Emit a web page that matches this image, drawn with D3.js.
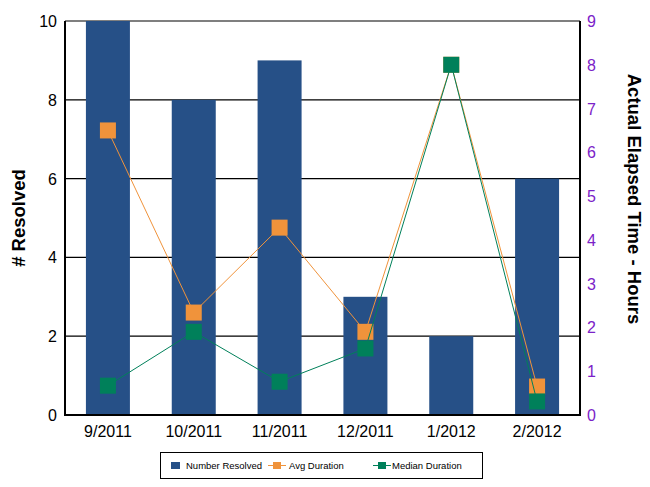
<!DOCTYPE html>
<html>
<head>
<meta charset="UTF-8">
<title>Resolved</title>
<script src="https://d3js.org/d3.v7.min.js"></script>
<style>
body { margin: 0; background: #fff; }
svg { font-family: 'Liberation Sans', Arial, sans-serif; }
</style>
</head>
<body>
<script>
// data
var months = ["9/2011", "10/2011", "11/2011", "12/2011", "1/2012", "2/2012"];
var numberResolved = [10, 8, 9, 3, 2, 6];
var avgDuration = [6.5, 2.34, 4.28, 1.9, 8.0, 0.65];
var medianDuration = [0.67, 1.9, 0.76, 1.52, 8.0, 0.31];
var leftTicks = [0, 2, 4, 6, 8, 10];
var rightTicks = [0, 1, 2, 3, 4, 5, 6, 7, 8, 9];

var W = 650, H = 487;
var m = {left: 65, right: 70, top: 21, bottom: 72};

var svg = d3.select("body").append("svg")
    .attr("width", W)
    .attr("height", H);

var x = d3.scaleBand().domain(months).range([m.left, W - m.right]);
var yL = d3.scaleLinear().domain([0, 10]).range([H - m.bottom, m.top]);
var yR = d3.scaleLinear().domain([0, 9]).range([H - m.bottom, m.top]);

var barW = 44;
var cx = function(d, i) { return x(months[i]) + x.bandwidth() / 2; };

// grid lines
svg.append("g").selectAll("line")
    .data(leftTicks.slice(1))
    .join("line")
    .attr("x1", m.left).attr("x2", W - m.right)
    .attr("y1", d => yL(d)).attr("y2", d => yL(d))
    .attr("stroke", "#000").attr("stroke-width", 1.2);

// bars
svg.append("g").selectAll("rect")
    .data(numberResolved)
    .join("rect")
    .attr("x", (d, i) => cx(d, i) - barW / 2)
    .attr("y", d => yL(d))
    .attr("width", barW)
    .attr("height", d => yL(0) - yL(d))
    .attr("fill", "#265087");

// lines + markers
function series(vals, color) {
    var line = d3.line().x((d, i) => cx(d, i)).y(d => yR(d));
    svg.append("path")
        .datum(vals)
        .attr("d", line)
        .attr("fill", "none")
        .attr("stroke", color)
        .attr("stroke-width", 1);
    svg.append("g").selectAll("rect")
        .data(vals)
        .join("rect")
        .attr("x", (d, i) => cx(d, i) - 8)
        .attr("y", d => yR(d) - 8)
        .attr("width", 16).attr("height", 16)
        .attr("fill", color);
}
series(avgDuration, "#F0933B");
series(medianDuration, "#00805A");

// axes lines
var axisG = svg.append("g");
axisG.append("line")
    .attr("x1", m.left).attr("x2", m.left)
    .attr("y1", m.top).attr("y2", yL(0))
    .attr("stroke", "#000").attr("stroke-width", 2);
axisG.append("line")
    .attr("x1", W - m.right).attr("x2", W - m.right)
    .attr("y1", m.top).attr("y2", yL(0))
    .attr("stroke", "#000").attr("stroke-width", 2);
axisG.append("line")
    .attr("x1", m.left - 1).attr("x2", W - m.right + 1)
    .attr("y1", yL(0)).attr("y2", yL(0))
    .attr("stroke", "#000").attr("stroke-width", 2);

// tick labels
svg.append("g").selectAll("text")
    .data(leftTicks)
    .join("text")
    .attr("x", m.left - 8)
    .attr("y", d => yL(d) + 6)
    .attr("text-anchor", "end")
    .attr("font-size", 16)
    .attr("fill", "#000")
    .text(d => d);

svg.append("g").selectAll("text")
    .data(rightTicks)
    .join("text")
    .attr("x", W - m.right + 7)
    .attr("y", d => yR(d) + 6)
    .attr("font-size", 16)
    .attr("fill", "#7B22C8")
    .text(d => d);

svg.append("g").selectAll("text")
    .data(months)
    .join("text")
    .attr("x", d => x(d) + x.bandwidth() / 2)
    .attr("y", 437)
    .attr("text-anchor", "middle")
    .attr("font-size", 16)
    .attr("fill", "#000")
    .text(d => d);

// axis titles
svg.append("text")
    .attr("transform", "translate(25,218) rotate(-90)")
    .attr("text-anchor", "middle")
    .attr("font-size", 18.5)
    .attr("font-weight", "bold")
    .text("# Resolved");

svg.append("text")
    .attr("transform", "translate(628,199) rotate(90)")
    .attr("text-anchor", "middle")
    .attr("font-size", 18.5)
    .attr("font-weight", "bold")
    .text("Actual Elapsed Time - Hours");

// legend
var lg = svg.append("g");
lg.append("rect")
    .attr("x", 160.5).attr("y", 452.5)
    .attr("width", 322).attr("height", 26)
    .attr("fill", "#fff").attr("stroke", "#000").attr("stroke-width", 1);
lg.append("rect")
    .attr("x", 171).attr("y", 462).attr("width", 9).attr("height", 7)
    .attr("fill", "#265087");
lg.append("text").attr("x", 186).attr("y", 469).attr("font-size", 9.5).text("Number Resolved");

[[268, "#F0933B", "Avg Duration", 289], [373, "#00805A", "Median Duration", 392]].forEach(function(s) {
    lg.append("line")
        .attr("x1", s[0]).attr("x2", s[0] + 18)
        .attr("y1", 465.5).attr("y2", 465.5)
        .attr("stroke", s[1]).attr("stroke-width", 1);
    lg.append("rect")
        .attr("x", s[0] + 5).attr("y", 462).attr("width", 8).attr("height", 7)
        .attr("fill", s[1]);
    lg.append("text").attr("x", s[3]).attr("y", 469).attr("font-size", 9.5).text(s[2]);
});
</script>
</body>
</html>
